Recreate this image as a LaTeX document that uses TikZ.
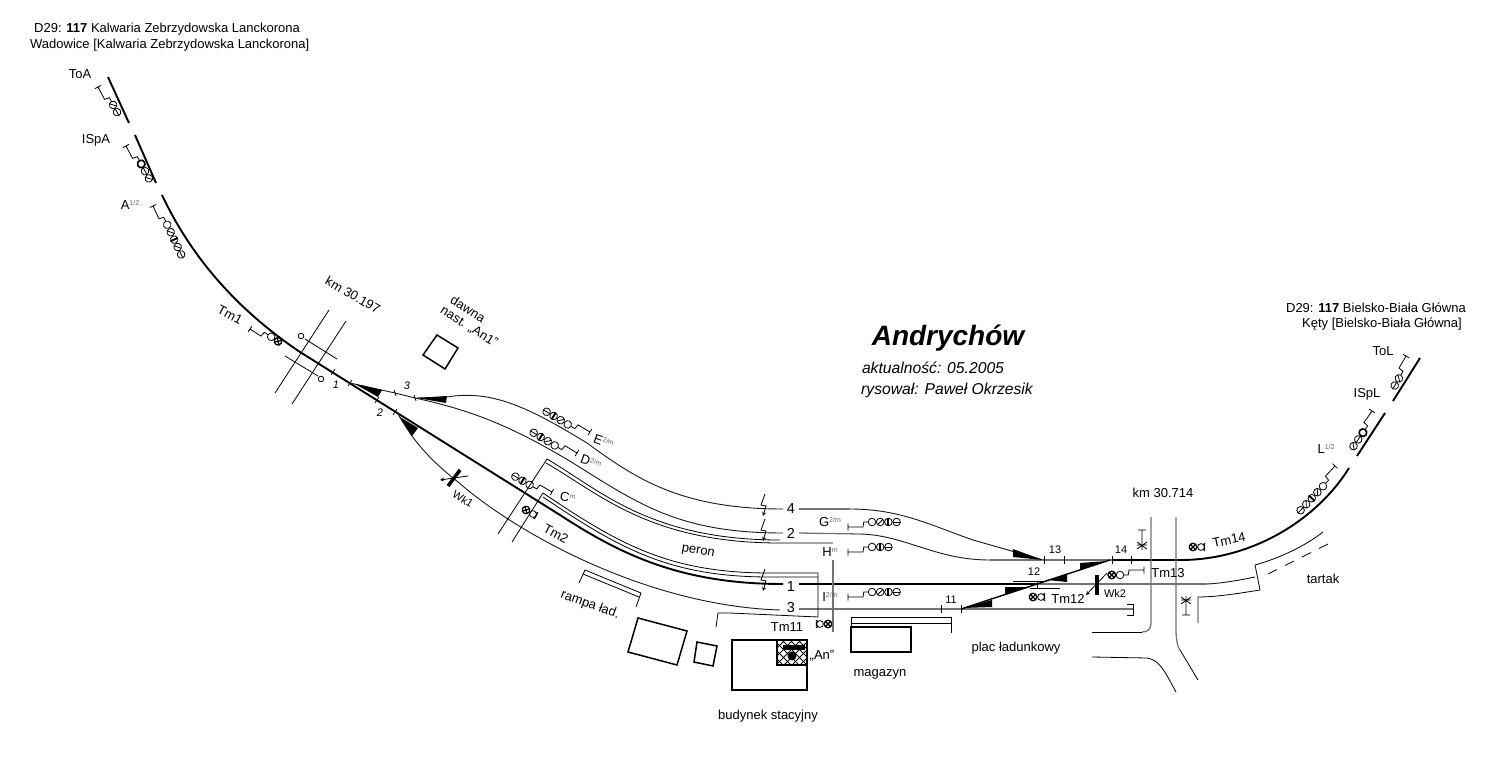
\documentclass[tikz,border=0pt]{standalone}
\usepackage{fontspec}
\setmainfont{Liberation Sans}
\usetikzlibrary{
    arrows,
    calc,
    positioning
}
\tikzset{
    mainline/.style={line width=1.9pt, line cap=butt},
    sideline/.style={line width=0.9pt, black!90},
    greyline/.style={line width=1.3pt, black!55},
    thinline/.style={line width=0.8pt},
    wedge/.style={fill=black, draw=none},
    building/.style={line width=1.5pt},
    lbl/.style={inner sep=0pt, font=\fontsize{13}{15}\selectfont},
    smalllbl/.style={inner sep=0pt, font=\fontsize{11}{13}\selectfont},
    tracklbl/.style={inner sep=0pt, font=\fontsize{14.5}{17}\selectfont},
    lampline/.style={line width=0.8pt}
}
\newcommand{\supm}[1]{\raisebox{3.5pt}{\fontsize{7}{8}\selectfont\color{black!60}#1}}
\newcommand{\lampo}{}
\newcommand{\lampb}{\draw[line width=1.6pt] (0,0) circle (3.8);}
\newcommand{\lampd}{\draw[lampline] (-2.7,2.7) -- (2.7,-2.7);}
\newcommand{\lamph}{\draw[lampline] (-3.8,0) -- (3.8,0);}
\newcommand{\lampv}{\draw[line width=1.9pt] (0,-3.8) -- (0,3.8);}
\newcommand{\lampx}{\draw[line width=1.2pt] (0,0) circle (3.8) (-2.7,2.7) -- (2.7,-2.7) (-2.7,-2.7) -- (2.7,2.7);}
\newcommand{\signal}[5]{
    \begin{scope}[shift={(#1, #2)}, rotate=#3]
        \draw[thinline] (0, -3.5) -- (0, 3.5) (0, 0) -- (#4, 0) -- ({#4+0.8}, -5) -- ({#4+5}, -5);
        \foreach \kind [count=\n] in {#5} {
            \begin{scope}[shift={({#4+9+(\n-1)*8.2}, -5)}]
                \draw[lampline] (0, 0) circle (3.8);
                \csname lamp\kind\endcsname
            \end{scope}
        }
    \end{scope}
}
\newcommand{\shunt}[3]{
    \begin{scope}[shift={(#1, #2)}, rotate=#3]
        \draw[lampline] (8, 0) circle (3.4) (10.5, -3.4) -- (11.8, -3.4) -- (11.8, 3.4) -- (10.5, 3.4);
        \lampx
    \end{scope}
}
\newcommand{\bolt}[2]{
    \draw[thinline, ->, >=stealth] (#1, #2) -- ({#1-4}, {#2+11}) -- ({#1+1}, {#2+12}) -- ({#1-2}, {#2+22});
}
\begin{document}
\begin{tikzpicture}[x=1pt, y=-1pt]
    \useasboundingbox (0, 0) rectangle (1498, 767);

    \node[lbl, anchor=west] (headA) at (34, 29) {D29: \textbf{117} Kalwaria Zebrzydowska Lanckorona};
    \node[lbl, anchor=west] (headB) at (30, 45) {Wadowice [Kalwaria Zebrzydowska Lanckorona]};
    \node[lbl, anchor=east] (headC) at (1466, 308) {D29: \textbf{117} Bielsko-Biała Główna};
    \node[lbl, anchor=east] (headD) at (1462, 324) {Kęty [Bielsko-Biała Główna]};
    \node[inner sep=0pt, font=\fontsize{28}{30}\selectfont\bfseries\itshape] (title) at (948, 338) {Andrychów};
    \node[inner sep=0pt, font=\fontsize{15.7}{17}\selectfont\itshape] (date) at (933, 368) {aktualność: 05.2005};
    \node[inner sep=0pt, font=\fontsize{15.7}{17}\selectfont\itshape] (drawn) at (947, 390) {rysował: Paweł Okrzesik};

    \draw[mainline] (108, 77) -- (129, 123);
    \draw[mainline] (135, 135) -- (156, 183);
    \draw[mainline] (162, 195) .. controls (195, 265) and (245, 315) .. (300, 352) -- (560, 515) .. controls (620, 554) and (680, 584) .. (783, 584);
    \draw[mainline] (799, 584) -- (1037, 584);
    \draw[mainline] (1112, 560) -- (1183, 560) .. controls (1255, 559) and (1318, 518) .. (1349, 468);
    \draw[mainline] (1357, 456) -- (1385, 413);
    \draw[mainline] (1393, 401) -- (1420, 358);

    \draw[sideline] (350, 383) -- (395, 393) -- (415, 398);
    \draw[sideline] (417, 398) -- (447, 397) .. controls (490, 390) and (525, 405) .. (587, 443) .. controls (635, 478) and (680, 509) .. (783, 509);
    \draw[sideline] (415, 398) .. controls (470, 410) and (510, 425) .. (573, 463) .. controls (640, 505) and (680, 533) .. (783, 533);
    \draw[sideline] (397, 412) .. controls (412, 440) and (430, 460) .. (458, 482) .. controls (520, 536) and (650, 606) .. (780, 610);

    \draw[greyline] (799, 509) -- (850, 509);
    \draw[sideline] (850, 509) .. controls (900, 509) and (930, 525) .. (973, 540) -- (1043, 560);
    \draw[greyline] (799, 533) -- (860, 534);
    \draw[sideline] (860, 534) .. controls (905, 535) and (935, 560) .. (990, 560);
    \draw[greyline] (990, 560) -- (1112, 560);
    \draw[greyline] (1037, 584) -- (1207, 584);
    \draw[sideline] (1207, 584) .. controls (1225, 583) and (1240, 580) .. (1255, 577);
    \draw[greyline] (799, 609) -- (1133, 609);
    \draw[thinline] (1127, 604) -- (1133, 604) -- (1133, 615) -- (1127, 615);
    \draw[line width=1.4pt] (961, 609) -- (1110, 560);

    \fill[wedge] (355, 384) -- (382, 390) -- (378, 397) -- cycle;
    \fill[wedge] (417, 398) -- (447, 396) -- (446, 403) -- cycle;
    \fill[wedge] (400, 417) -- (418, 428) -- (412, 436) -- cycle;
    \fill[wedge] (1013, 549) -- (1013, 557) -- (1043, 560) -- cycle;
    \fill[wedge] (963, 608) -- (992, 600) -- (992, 607) -- cycle;
    \fill[wedge] (1005, 587) -- (1005, 595) -- (1030, 587) -- cycle;
    \fill[wedge] (1047, 580) -- (1067, 574) -- (1067, 582) -- cycle;
    \fill[wedge] (1080, 563) -- (1080, 570) -- (1107, 561) -- cycle;

    \foreach \tx/\ty in {333/372, 350/383, 377/400, 395/412} {
        \draw[thinline] ({\tx-2}, {\ty+3}) -- ({\tx+2}, {\ty-3});
    }
    \foreach \tx/\ty in {395/393, 415/398} {
        \draw[thinline] ({\tx-1}, {\ty-3}) -- ({\tx+1}, {\ty+3});
    }
    \foreach \tx/\ty in {1044/560, 1064/560, 1112/560, 1131/560, 941/609, 961/609} {
        \draw[thinline] (\tx, {\ty-4}) -- (\tx, {\ty+4});
    }
    \draw[thinline] (1013, 581) -- (1047, 581) (1030, 588) -- (1060, 588) (1037, 581) -- (1037, 588);

    \node[smalllbl, font=\fontsize{11}{13}\selectfont\itshape] (sw1) at (336, 385) {1};
    \node[smalllbl, font=\fontsize{11}{13}\selectfont\itshape] (sw2) at (380, 413) {2};
    \node[smalllbl, font=\fontsize{11}{13}\selectfont\itshape] (sw3) at (407, 386) {3};
    \node[smalllbl] (sw11) at (951, 600) {11};
    \node[smalllbl] (sw12) at (1034, 572) {12};
    \node[smalllbl] (sw13) at (1055, 550) {13};
    \node[smalllbl] (sw14) at (1121, 550) {14};

    \node[tracklbl] (track4) at (791, 509) {4};
    \node[tracklbl] (track2) at (791, 533) {2};
    \node[tracklbl] (track1) at (791, 587) {1};
    \node[tracklbl] (track3) at (791, 608) {3};

    \bolt{765}{494}
    \bolt{765}{519}
    \bolt{765}{569}

    \draw[thinline] (498, 534) -- (547, 459);
    \draw[thinline] (547, 459) .. controls (600, 490) and (650, 540) .. (780, 540);
    \draw[thinline] (546, 463) .. controls (600, 494) and (650, 543) .. (780, 543) -- (833, 543);
    \draw[thinline] (512, 542) -- (543, 493);
    \draw[thinline] (543, 493) .. controls (620, 545) and (670, 573) .. (770, 573) -- (818, 573) -- (818, 617) -- (730, 613) -- (718, 613) -- (716, 627);
    \draw[thinline] (543, 497) .. controls (620, 549) and (670, 577) .. (770, 577) -- (818, 577);
    \draw[greyline] (833, 560) -- (833, 632);

    \draw[thinline] (329, 310) -- (275, 393);
    \draw[thinline] (346, 321) -- (292, 404);
    \draw[thinline] (305, 339) -- (337, 359);
    \draw[thinline] (285, 356) -- (318, 376);
    \draw[thinline, fill=white] (301, 336) circle (2.8);
    \draw[thinline, fill=white] (321, 379) circle (2.8);

    \draw[building] (437, 335) -- (458, 348) -- (445, 369) -- (423, 355) -- cycle;
    \draw[line width=3.5pt] (460, 470) -- (448, 486);
    \draw[thinline, ->, >=stealth] (468, 476) -- (440, 480);

    \draw[thinline] (579, 583) -- (585, 570) -- (641, 593) -- (636, 607);
    \draw[thinline] (583, 574) -- (639, 597);
    \draw[building] (638, 618) -- (687, 631) -- (677, 665) -- (628, 652) -- cycle;
    \draw[building] (697, 642) -- (717, 646) -- (713, 666) -- (694, 662) -- cycle;
    \begin{scope}
        \clip (777, 640) rectangle (807, 665);
        \foreach \hx in {0, 8, ..., 56} {
            \draw[thinline] ({750+\hx}, 640) -- ({775+\hx}, 665);
            \draw[thinline] ({777+\hx}, 640) -- ({752+\hx}, 665);
        }
    \end{scope}
    \draw[building] (732, 640) rectangle (807, 690);
    \draw[building] (777, 640) -- (777, 665) -- (807, 665);
    \fill (783, 645) rectangle (805, 650);
    \fill (792, 656) circle (4.5);
    \draw[thinline] (851, 617) -- (951, 617) -- (951, 633) (851, 623) -- (951, 623) (851, 617) -- (851, 627);
    \draw[building] (851, 627) rectangle (911, 652);

    \draw[greyline] (1151, 517) -- (1151, 623) .. controls (1151, 629) and (1148, 632) .. (1142, 632);
    \draw[thinline] (1142, 632) -- (1092, 632);
    \draw[thinline] (1092, 657) -- (1147, 658) .. controls (1160, 660) and (1165, 672) .. (1176, 692);
    \draw[greyline] (1176, 517) -- (1176, 630) .. controls (1176, 640) and (1178, 648) .. (1180, 650);
    \draw[thinline] (1180, 650) -- (1198, 680);
    \draw[thinline] (1255, 565) .. controls (1280, 558) and (1305, 546) .. (1323, 532);
    \draw[thinline] (1255, 565) -- (1260, 590);
    \draw[thinline] (1260, 590) .. controls (1235, 594) and (1215, 597) .. (1198, 597) -- (1198, 623);
    \draw[thinline, dash pattern=on 10pt off 9pt] (1268, 574) -- (1328, 544);

    \draw[thinline] (1142, 530) -- (1142, 550) (1138, 530) -- (1146, 530) (1137, 542) -- (1147, 549) (1137, 549) -- (1147, 542) (1137, 545) -- (1147, 545);
    \draw[thinline] (1186, 596) -- (1186, 615) (1182, 615) -- (1190, 615) (1181, 597) -- (1191, 604) (1181, 604) -- (1191, 597) (1181, 600) -- (1191, 600);
    \draw[line width=3.5pt] (1097, 575) -- (1097, 595);
    \draw[thinline, ->, >=stealth] (1107, 573) -- (1086, 595);

    \signal{98}{87}{-62}{14}{d,h}
    \signal{126}{146}{-62}{14}{b,h,d}
    \signal{153}{206}{-65}{14}{o,d,v,d,h}
    \signal{250}{329}{-33}{13}{o,x}
    \signal{590}{432}{149}{14}{o,d,v,h}
    \signal{577}{453}{149}{14}{o,d,v,h}
    \signal{552}{492}{150}{14}{o,v,h}
    \signal{848}{527}{0}{15}{o,d,v,h}
    \signal{848}{552}{0}{15}{o,v,h}
    \signal{848}{597}{0}{15}{o,d,v,h}
    \signal{1144}{570}{180}{15}{o,x}
    \signal{1335}{466}{227}{14}{o,d,v,d,h}
    \signal{1372}{411}{235}{14}{b,h,d}
    \signal{1406}{356}{240}{14}{d,h}

    \shunt{526}{510}{-30}
    \shunt{828}{624}{180}
    \shunt{1033}{597}{0}
    \shunt{1193}{547}{0}

    \node[lbl] (sigToA) at (80, 74) {ToA};
    \node[lbl] (sigISpA) at (96, 140) {ISpA};
    \node[lbl] (sigA) at (130, 205) {A\supm{1/2}};
    \node[lbl, rotate=-28] (sigTm1) at (230, 315) {Tm1};
    \node[lbl, rotate=-20, anchor=west] (sigE) at (594, 438) {E\supm{2/m}};
    \node[lbl, rotate=-20, anchor=west] (sigD) at (581, 458) {D\supm{2/m}};
    \node[lbl, rotate=-10, anchor=west] (sigC) at (560, 496) {C\supm{m}};
    \node[lbl, rotate=-28] (sigTm2) at (556, 534) {Tm2};
    \node[lbl] (sigG) at (830, 522) {G\supm{2/m}};
    \node[lbl] (sigH) at (830, 552) {H\supm{m}};
    \node[lbl] (sigI) at (830, 597) {I\supm{2/m}};
    \node[lbl] (sigTm11) at (787, 627) {Tm11};
    \node[lbl] (sigTm12) at (1068, 599) {Tm12};
    \node[lbl] (sigTm13) at (1168, 573) {Tm13};
    \node[lbl, rotate=12] (sigTm14) at (1229, 540) {Tm14};
    \node[lbl] (sigL) at (1326, 449) {L\supm{1/2}};
    \node[lbl] (sigISpL) at (1367, 394) {ISpL};
    \node[lbl] (sigToL) at (1383, 351) {ToL};

    \node[lbl, rotate=-30] (km1) at (353, 295) {km 30.197};
    \node[lbl] (km2) at (1163, 493) {km 30.714};
    \node[lbl, rotate=-32] (old1) at (468, 309) {dawna};
    \node[lbl, rotate=-32] (old2) at (469, 327) {nast. „An1”};
    \node[smalllbl, rotate=-32] (wk1) at (463, 499) {Wk1};
    \node[smalllbl] (wk2) at (1115, 594) {Wk2};
    \node[lbl, rotate=-10] (peron) at (698, 552) {peron};
    \node[lbl, rotate=-20] (rampa) at (590, 605) {rampa ład.};
    \node[lbl] (anlbl) at (822, 656) {„An”};
    \node[lbl] (station) at (768, 716) {budynek stacyjny};
    \node[lbl] (store) at (880, 674) {magazyn};
    \node[lbl] (yard) at (1016, 648) {plac ładunkowy};
    \node[lbl] (mill) at (1323, 579) {tartak};
\end{tikzpicture}
\end{document}
